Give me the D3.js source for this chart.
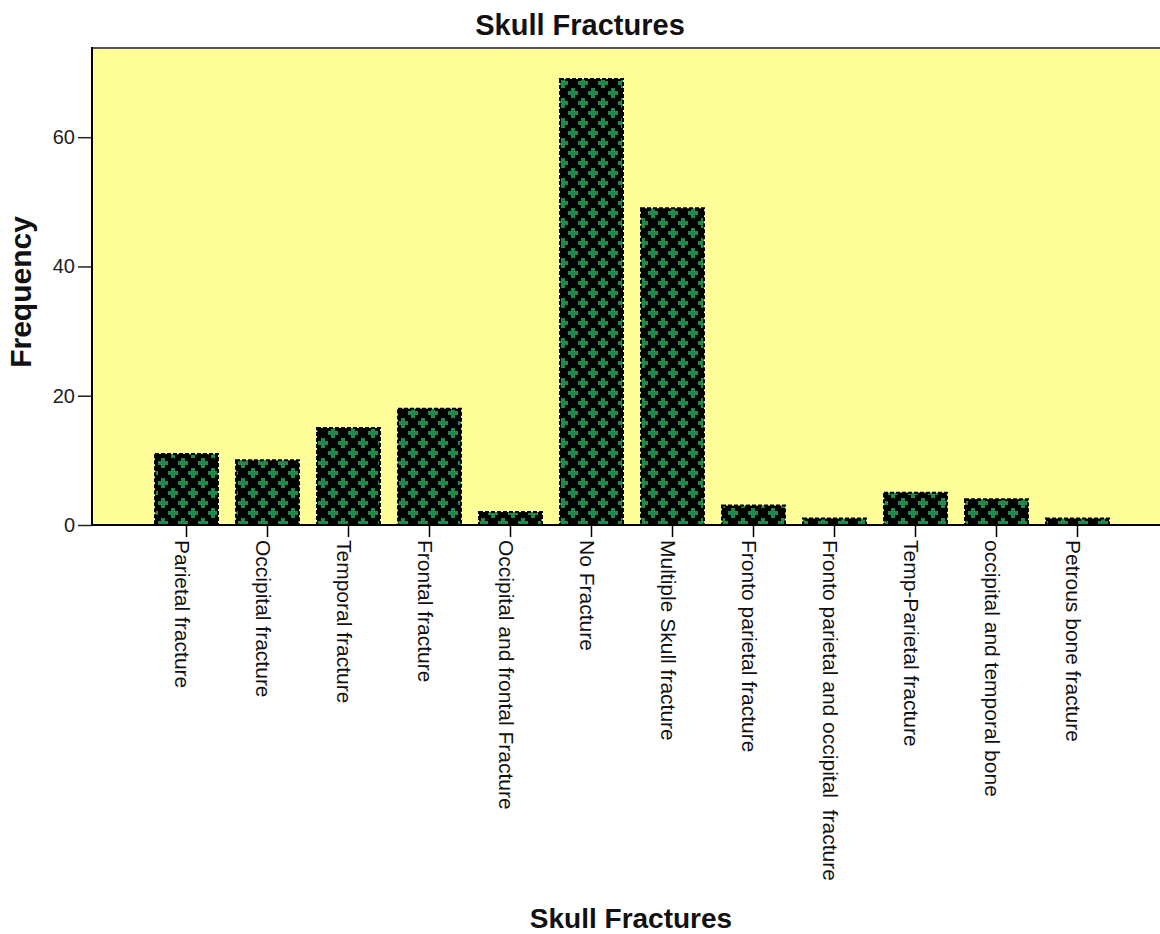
<!DOCTYPE html>
<html>
<head>
<meta charset="utf-8">
<script src="https://cdn.jsdelivr.net/npm/d3@7"></script>
<style>
  html, body { margin: 0; padding: 0; background: #fff; }
  svg { display: block; }
</style>
</head>
<body>
<div id="chart"></div>
<script>
const categories = [
  "Parietal fracture",
  "Occipital fracture",
  "Temporal fracture",
  "Frontal fracture",
  "Occipital and frontal Fracture",
  "No Fracture",
  "Multiple Skull fracture",
  "Fronto parietal fracture",
  "Fronto parietal and occipital\u00a0 fracture",
  "Temp-Parietal fracture",
  "occipital and temporal bone",
  "Petrous bone fracture"
];
const frequencies = [11, 10, 15, 18, 2, 69, 49, 3, 1, 5, 4, 1];
const yTickValues = [0, 20, 40, 60];
const chartTitle = "Skull Fractures";
const xTitle = "Skull Fractures";
const yTitle = "Frequency";

const W = 1160, H = 934;
const plot = { left: 92, top: 48, right: 1160, bottom: 525 };
const FONT = "'Liberation Sans', Arial, sans-serif";

const svg = d3.select("#chart").append("svg")
  .attr("width", W).attr("height", H);

// pattern
const defs = svg.append("defs");
const pat = defs.append("pattern")
  .attr("id", "crossPat")
  .attr("patternUnits", "userSpaceOnUse")
  .attr("x", -2).attr("y", -2)
  .attr("width", 20).attr("height", 20);
pat.append("rect").attr("width", 20).attr("height", 20).attr("fill", "#000");
[[5, 5], [15, 15]].forEach(([cx, cy]) => {
  pat.append("rect").attr("x", cx - 5).attr("y", cy - 2).attr("width", 10).attr("height", 4).attr("fill", "#21894b");
  pat.append("rect").attr("x", cx - 2).attr("y", cy - 5).attr("width", 4).attr("height", 10).attr("fill", "#21894b");
});

// plot background
svg.append("rect")
  .attr("x", plot.left).attr("y", plot.top)
  .attr("width", plot.right - plot.left).attr("height", plot.bottom - plot.top)
  .attr("fill", "#ffff99");

const x = d3.scaleBand()
  .domain(categories)
  .range([146, 1118])
  .paddingInner(0.222)
  .paddingOuter(0.111);

const y = d3.scaleLinear()
  .domain([0, 73.8])
  .range([plot.bottom, plot.top]);

// bars
svg.append("g").selectAll("rect")
  .data(categories.map((c, i) => ({ c, v: frequencies[i] })))
  .join("rect")
  .attr("x", d => x(d.c))
  .attr("y", d => y(d.v))
  .attr("width", x.bandwidth())
  .attr("height", d => y(0) - y(d.v))
  .attr("fill", "url(#crossPat)")
  .attr("stroke", "#000")
  .attr("stroke-width", 2)
  .attr("stroke-dasharray", "4 2");

// top border
svg.append("line")
  .attr("x1", plot.left).attr("x2", plot.right)
  .attr("y1", plot.top).attr("y2", plot.top)
  .attr("stroke", "#555").attr("stroke-width", 2);

// y axis
const yAxis = svg.append("g")
  .attr("transform", `translate(${plot.left},0)`)
  .call(d3.axisLeft(y).tickValues(yTickValues).tickSize(14).tickPadding(3).tickFormat(d3.format("d")));
yAxis.select(".domain").remove();
yAxis.selectAll(".tick line").attr("stroke", "#222").attr("stroke-width", 1.5);
yAxis.selectAll(".tick text")
  .attr("font-family", FONT).attr("font-size", 20).attr("fill", "#222");
svg.append("line")
  .attr("x1", plot.left).attr("x2", plot.left)
  .attr("y1", plot.top - 1).attr("y2", plot.bottom)
  .attr("stroke", "#000").attr("stroke-width", 2);

// x axis
const xAxis = svg.append("g")
  .attr("transform", `translate(0,${plot.bottom})`)
  .call(d3.axisBottom(x).tickSize(12).tickSizeOuter(0));
xAxis.select(".domain").remove();
xAxis.selectAll(".tick line").attr("stroke", "#000").attr("stroke-width", 1.5);
xAxis.selectAll(".tick text")
  .attr("font-family", FONT).attr("font-size", 21).attr("fill", "#111")
  .attr("x", 0).attr("y", 0).attr("dy", 0)
  .attr("text-anchor", "start")
  .attr("transform", "translate(-12,15) rotate(90)");
svg.append("line")
  .attr("x1", plot.left).attr("x2", plot.right)
  .attr("y1", plot.bottom).attr("y2", plot.bottom)
  .attr("stroke", "#000").attr("stroke-width", 2);

// titles
svg.append("text")
  .attr("x", 580).attr("y", 35)
  .attr("text-anchor", "middle")
  .attr("font-family", FONT).attr("font-weight", "bold").attr("font-size", 29)
  .attr("fill", "#111")
  .text(chartTitle);

svg.append("text")
  .attr("x", 631).attr("y", 928)
  .attr("text-anchor", "middle")
  .attr("font-family", FONT).attr("font-weight", "bold").attr("font-size", 28)
  .attr("fill", "#111")
  .text(xTitle);

svg.append("text")
  .attr("transform", "translate(31,292) rotate(-90)")
  .attr("text-anchor", "middle")
  .attr("font-family", FONT).attr("font-weight", "bold").attr("font-size", 30)
  .attr("fill", "#111")
  .text(yTitle);
</script>
</body>
</html>
